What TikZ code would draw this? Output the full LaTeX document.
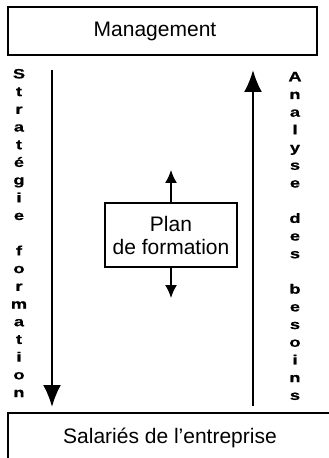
\documentclass[tikz,border=0pt]{standalone}
\usepackage{fontspec}
\setmainfont{Liberation Sans}
\newfontfamily\sidefont[FakeStretch=1.35,FakeBold=0.6]{Liberation Sans Bold}
\usetikzlibrary{arrows.meta,positioning}

\begin{document}
\begin{tikzpicture}[x=1bp,y=-1bp]
        \tikzstyle{every node}=[font=\fontsize{21bp}{23bp}\selectfont]
        \tikzstyle{box}=[draw,line width=1.2bp,inner sep=0pt]
        \tikzstyle{vertical}=[font=\sidefont\fontsize{13.5bp}{17.7bp}\selectfont,align=center,inner sep=0pt]
        \tikzstyle{flow}=[-{Latex[length=22bp,width=18bp]},line width=2.2bp]
        \tikzstyle{planarrow}=[-{Latex[length=13bp,width=12bp]},line width=1.5bp]
        \useasboundingbox (0,0) rectangle (328,458);

        %%% Boxes
        \node[box,minimum width=309bp,minimum height=48bp] (mgmt) at (162.5,31) {Management\hspace*{15bp}};
        \node[box,minimum width=324bp,minimum height=49bp] (staff) at (170,437.5) {Salariés de l’entreprise};
        \node[box,minimum width=132bp,minimum height=64bp,align=center] (plan) at (171,235) {Plan\\de formation};

        %%% Side texts
        \node[vertical] (strat) at (19,233) {S\\t\\r\\a\\t\\é\\g\\i\\e\\~\\f\\o\\r\\m\\a\\t\\i\\o\\n};
        \node[vertical] (needs) at (295,236) {A\\n\\a\\l\\y\\s\\e\\~\\d\\e\\s\\~\\b\\e\\s\\o\\i\\n\\s};

        %%% Arrow ends
        \coordinate (stratTop) at (52,70);
        \coordinate (stratBot) at (52,407);
        \coordinate (needsBot) at (253,406);
        \coordinate (needsTop) at (253,70);
        \coordinate (planUp) at (171,170);
        \coordinate (planDown) at (171,298);

        \draw[flow] (stratTop) -- (stratBot);
        \draw[flow] (needsBot) -- (needsTop);
        \draw[planarrow] (plan.north) -- (planUp);
        \draw[planarrow] (plan.south) -- (planDown);
\end{tikzpicture}
\end{document}
